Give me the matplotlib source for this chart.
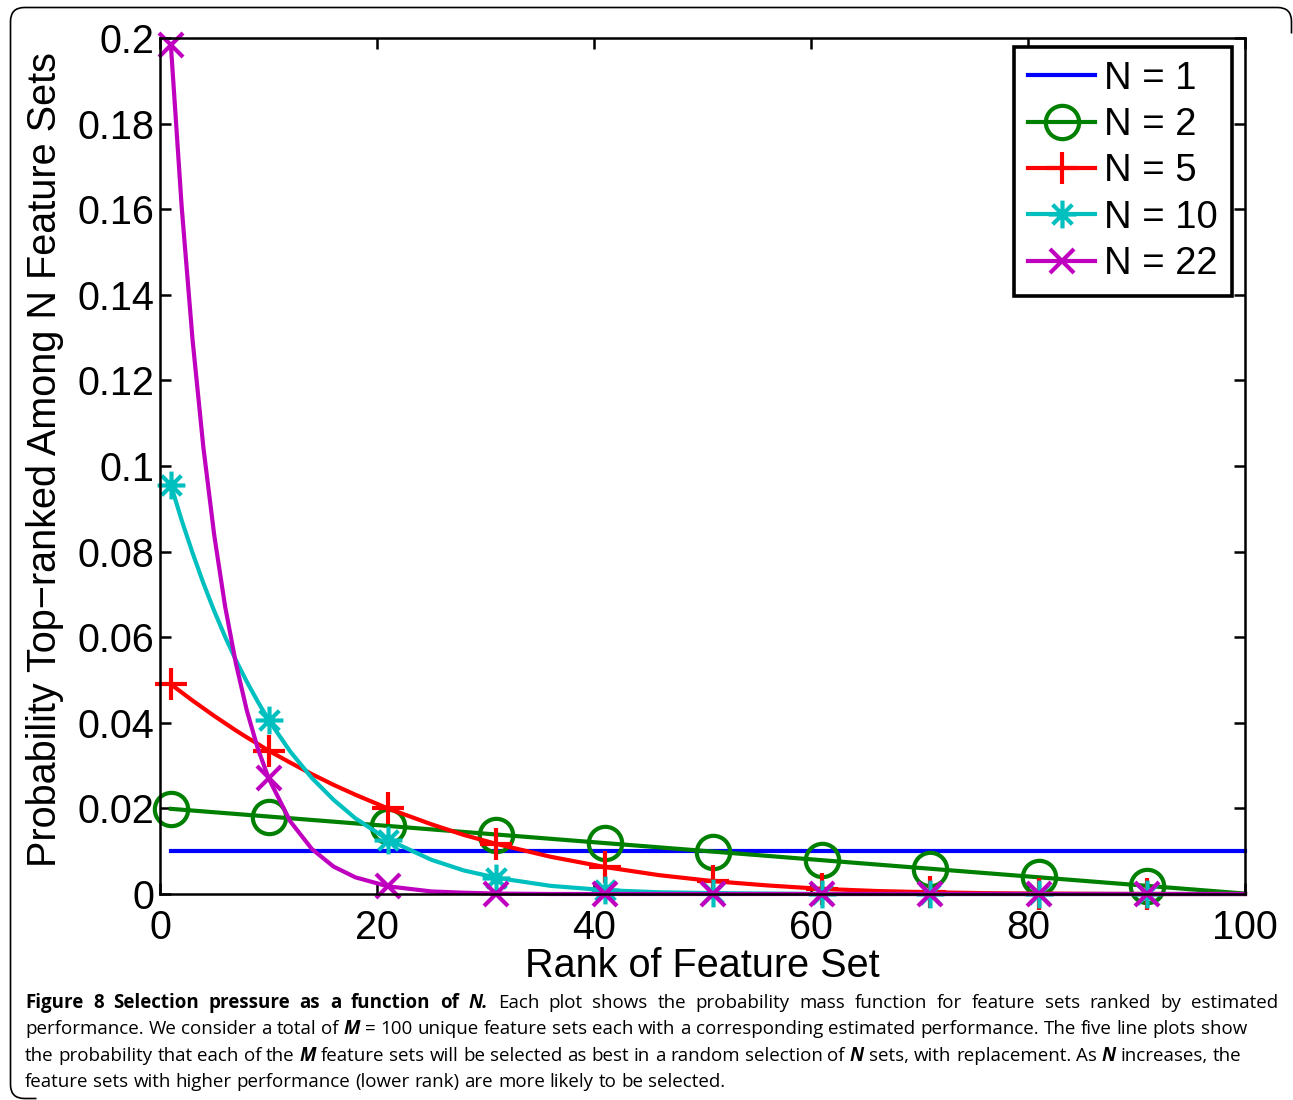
""" Selection pressure: probability that a rank is top-ranked among N draws """

import matplotlib
matplotlib.use("Agg")
import matplotlib.pyplot as plt
from matplotlib.path import Path
from matplotlib.patches import PathPatch

# ranks at which each curve was read
rank = [1, 2, 3, 4, 5, 6, 7, 8, 9, 10, 12, 14, 16, 18, 21, 25, 28, 31, 36,
        41, 46, 51, 56, 61, 66, 71, 76, 81, 91, 100]

p_n1 = [0.01] * len(rank)
p_n2 = [0.0199, 0.0197, 0.0195, 0.0193, 0.0191, 0.0189, 0.0187, 0.0185,
        0.0183, 0.0181, 0.0177, 0.0173, 0.0169, 0.0165, 0.0159, 0.0151,
        0.0145, 0.0139, 0.0129, 0.0119, 0.0109, 0.0099, 0.0089, 0.0079,
        0.0069, 0.0059, 0.0049, 0.0039, 0.0019, 0.0001]
p_n5 = [0.0490, 0.0471, 0.0452, 0.0434, 0.0416, 0.0399, 0.0382, 0.0366,
        0.0351, 0.0335, 0.0307, 0.0280, 0.0255, 0.0232, 0.0200, 0.0163,
        0.0138, 0.0117, 0.0087, 0.0063, 0.0044, 0.0030, 0.0020, 0.0012,
        0.0007, 0.0004, 0.0002, 0.0001, 0.0, 0.0]
p_n10 = [0.0956, 0.0873, 0.0797, 0.0726, 0.0661, 0.0601, 0.0546, 0.0496,
         0.0450, 0.0407, 0.0333, 0.0271, 0.0220, 0.0177, 0.0127, 0.0080,
         0.0055, 0.0038, 0.0019, 0.0009, 0.0004, 0.0002, 0.0001, 0.0,
         0.0, 0.0, 0.0, 0.0, 0.0, 0.0]
p_n22 = [0.1984, 0.1605, 0.1295, 0.1043, 0.0838, 0.0672, 0.0538, 0.0429,
         0.0341, 0.0271, 0.0170, 0.0105, 0.0064, 0.0039, 0.0018, 0.0006,
         0.0003, 0.0001, 0.0, 0.0, 0.0, 0.0, 0.0, 0.0, 0.0, 0.0, 0.0,
         0.0, 0.0, 0.0]

marker_ranks = [1, 10, 21, 31, 41, 51, 61, 71, 81, 91]
labels = ["N = 1", "N = 2", "N = 5", "N = 10", "N = 22"]

x_ticks = [0, 20, 40, 60, 80, 100]
y_ticks = [0, 0.02, 0.04, 0.06, 0.08, 0.1, 0.12, 0.14, 0.16, 0.18, 0.2]
y_ticklabels = ["0", "0.02", "0.04", "0.06", "0.08", "0.1", "0.12", "0.14",
                "0.16", "0.18", "0.2"]

caption_lines = [
    [("Figure 8 Selection pressure as a function of ", "bold", "normal"),
     ("N.", "bold", "italic"),
     (" Each plot shows the probability mass function for feature sets "
      "ranked by estimated", "normal", "normal")],
    [("performance. We consider a total of ", "normal", "normal"),
     ("M", "bold", "italic"),
     (" = 100 unique feature sets each with a corresponding estimated "
      "performance. The five line plots show", "normal", "normal")],
    [("the probability that each of the ", "normal", "normal"),
     ("M", "bold", "italic"),
     (" feature sets will be selected as best in a random selection of ",
      "normal", "normal"),
     ("N", "bold", "italic"),
     (" sets, with replacement. As ", "normal", "normal"),
     ("N", "bold", "italic"),
     (" increases, the", "normal", "normal")],
    [("feature sets with higher performance (lower rank) are more likely "
      "to be selected.", "normal", "normal")],
]

W, H = 1293, 1100
CAPTION_FONT = ["Open Sans", "DejaVu Sans"]


def asterisk():
    """ MATLAB-style '*' marker: four crossing strokes """
    d = 0.707
    verts = [(-1, 0), (1, 0), (0, -1), (0, 1), (-d, -d), (d, d), (-d, d), (d, -d)]
    codes = [Path.MOVETO, Path.LINETO] * 4
    return Path(verts, codes)


def draw_chart(fig):
    ax = fig.add_axes([160 / W, 1 - 894 / H, 1085 / W, 856 / H])
    idx = [rank.index(r) for r in marker_ranks]

    series = [
        (p_n1, (0, 0, 1), None, 0),
        (p_n2, (0, 0.5, 0), "o", 24),
        (p_n5, (1, 0, 0), "+", 23),
        (p_n10, (0, 0.75, 0.75), asterisk(), 20),
        (p_n22, (0.75, 0, 0.75), "x", 17),
    ]
    for (vals, color, marker, size), label in zip(series, labels):
        kw = {}
        if marker is not None:
            kw = dict(marker=marker, markersize=size, markevery=idx,
                      markerfacecolor="none", markeredgecolor=color,
                      markeredgewidth=3)
        ax.plot(rank, vals, color=color, linewidth=3, label=label,
                clip_on=False, **kw)

    ax.set_xlim(0, 100)
    ax.set_ylim(0, 0.2)
    ax.set_xticks(x_ticks)
    ax.set_yticks(y_ticks)
    ax.set_yticklabels(y_ticklabels)
    ax.tick_params(direction="in", length=8, width=1.8, top=True, right=True,
                   labelsize=28.5)
    ax.tick_params(axis="x", pad=11)
    ax.tick_params(axis="y", pad=4)
    for s in ax.spines.values():
        s.set_linewidth(1.8)

    ax.set_xlabel("Rank of Feature Set", fontsize=28.5, labelpad=0)
    ax.set_ylabel("Probability Top\u2212ranked Among N Feature Sets",
                  fontsize=28.5, labelpad=10)
    ax.yaxis.label.set_y(0.507)

    leg = ax.legend(loc="upper right", bbox_to_anchor=(0.988, 0.9895),
                    borderaxespad=0, fontsize=27.5, frameon=True, framealpha=1,
                    fancybox=False, handlelength=1.75, handletextpad=0.25,
                    labelspacing=0.27, borderpad=0.36)
    leg.get_frame().set_edgecolor("black")
    leg.get_frame().set_linewidth(2.6)


def measure(fig, renderer, text, size, weight="normal", style="normal"):
    t = fig.text(0, 0, text, fontsize=size, fontweight=weight,
                 fontstyle=style, family=CAPTION_FONT)
    width = t.get_window_extent(renderer).width
    t.remove()
    return width


def split_words(fig, renderer, line, size):
    """ words of a caption line with their fonts, widths and leading space """
    words = []
    space_before = False
    for txt, weight, style in line:
        for i, part in enumerate(txt.split(" ")):
            if i > 0:
                space_before = True
            if part == "":
                continue
            wd = measure(fig, renderer, part, size, weight, style)
            words.append((part, weight, style, wd, space_before and bool(words)))
            space_before = False
    space = (measure(fig, renderer, "a a", size)
             - measure(fig, renderer, "aa", size))
    return words, space


def line_width(words, space):
    gaps = sum(1 for w in words if w[4])
    return sum(w[3] for w in words) + gaps * space, gaps


def draw_caption(fig):
    renderer = fig.canvas.get_renderer()
    left = 25
    ends = [1278, 1255, 1254, None]

    # choose a size so the left-aligned lines end where they should
    size = 14.0
    scale = 10.0
    for line, end in zip(caption_lines[1:3], ends[1:3]):
        words, space = split_words(fig, renderer, line, size)
        width, _ = line_width(words, space)
        scale = min(scale, (end - left) / width)
    size *= scale

    baselines = [1008, 1034, 1061, 1087]
    for k, (line, yb) in enumerate(zip(caption_lines, baselines)):
        words, space = split_words(fig, renderer, line, size)
        width, gaps = line_width(words, space)
        gap = space
        if k == 0 and gaps:
            # first line is set justified to the full text block
            gap = space + max(0, ends[0] - left - width) / gaps
        x = left
        for part, weight, style, wd, glue in words:
            if glue:
                x += gap
            fig.text(x / W, 1 - yb / H, part, fontsize=size,
                     fontweight=weight, fontstyle=style, family=CAPTION_FONT,
                     va="baseline", ha="left")
            x += wd


def draw_frame(fig):
    # rounded panel border: left and top edges, the rest runs off the page
    r = 14
    x0, y0 = 10.5, 7.5
    x1, y1 = W - 1.5, H - 1.5
    pts = [(x1, y0 + r + 12), (x1, y0 + r), (x1, y0), (x1 - r, y0),
           (x0 + r, y0), (x0, y0), (x0, y0 + r),
           (x0, y1 - r), (x0, y1), (x0 + r, y1), (x0 + r + 12, y1)]
    codes = [Path.MOVETO, Path.LINETO, Path.CURVE3, Path.CURVE3,
             Path.LINETO, Path.CURVE3, Path.CURVE3,
             Path.LINETO, Path.CURVE3, Path.CURVE3, Path.LINETO]
    verts = [(x / W, 1 - y / H) for x, y in pts]
    patch = PathPatch(Path(verts, codes), transform=fig.transFigure,
                      facecolor="none", edgecolor="black", linewidth=1.2)
    fig.patches.append(patch)


def main():
    plt.rcParams["font.family"] = ["Liberation Sans", "DejaVu Sans"]
    fig = plt.figure(figsize=(W / 100, H / 100), dpi=100)
    draw_chart(fig)
    draw_caption(fig)
    draw_frame(fig)
    fig.savefig("out.png", dpi=100)


if __name__ == "__main__":
    main()
